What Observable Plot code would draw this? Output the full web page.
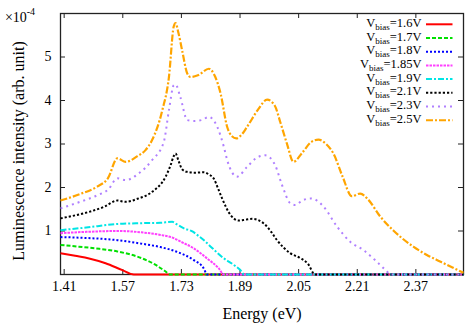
<!DOCTYPE html>
<html><head><meta charset="utf-8">
<script src="https://cdn.jsdelivr.net/npm/d3@7"></script>
<script src="https://cdn.jsdelivr.net/npm/@observablehq/plot@0.6"></script>
<style>html,body{margin:0;padding:0;background:#fff} svg{display:block}</style>
</head><body><div id="chart"></div>
<script>
// ---- data (intensity in units of 1e-4) ----
const biasLabels = ["1.6V","1.7V","1.8V","1.85V","1.9V","2.1V","2.3V","2.5V"];
const seriesColors = ["#ff0000","#00e000","#0000ff","#ff40ff","#00e5e5","#000000","#b080ff","#ffa500"];
const seriesDash = ["none","4,2","2,2","2.5,1","6,2,2,2","2.2,2","2,4","7,2,2,2"];

const energy_16 = [1.40,1.44,1.478,1.523,1.569,1.60,2.50];
const lum_16    = [0.49,0.43,0.37,0.26,0.10,0,0];

const energy_17 = [1.40,1.45,1.496,1.555,1.623,1.66,1.685,1.70,2.50];
const lum_17    = [0.68,0.64,0.60,0.53,0.37,0.22,0.08,0,0];

const energy_18 = [1.40,1.47,1.555,1.62,1.673,1.718,1.764,1.791,1.80,2.50];
const lum_18    = [0.86,0.84,0.79,0.71,0.63,0.52,0.33,0.14,0,0];

const energy_185 = [1.40,1.47,1.555,1.62,1.673,1.705,1.727,1.764,1.80,1.832,1.846,2.50];
const lum_185    = [0.95,0.98,1.00,0.97,0.91,0.85,0.76,0.60,0.37,0.14,0,0];

const energy_19 = [1.40,1.47,1.555,1.62,1.673,1.705,1.718,1.737,1.76,1.773,1.79,1.81,1.846,1.873,1.896,1.90,2.50];
const lum_19    = [1.02,1.08,1.16,1.18,1.19,1.21,1.15,1.06,0.99,0.91,0.80,0.64,0.37,0.22,0.05,0,0];

const energy_21 = [1.40,1.44,1.478,1.52,1.555,1.578,1.61,1.65,1.687,1.70,1.709,1.714,1.722,1.732,1.745,1.765,1.791,1.805,1.818,1.83,1.841,1.864,1.886,1.905,1.923,1.954,1.975,1.991,2.027,2.054,2.075,2.095,2.50];
const lum_21    = [1.29,1.36,1.44,1.56,1.70,1.67,1.74,1.90,2.25,2.50,2.72,2.78,2.62,2.42,2.36,2.34,2.35,2.30,2.21,1.98,1.75,1.37,1.24,1.26,1.28,1.18,0.98,0.79,0.49,0.38,0.25,0,0];

const energy_23 = [1.40,1.45,1.50,1.53,1.555,1.578,1.61,1.65,1.682,1.696,1.709,1.714,1.727,1.746,1.764,1.785,1.805,1.828,1.846,1.855,1.868,1.882,1.909,1.935,1.959,1.986,2.005,2.027,2.041,2.06,2.082,2.10,2.118,2.155,2.191,2.227,2.26,2.291,2.30,2.50];
const lum_23    = [1.52,1.66,1.82,1.95,2.21,2.17,2.30,2.63,3.05,3.78,4.35,4.37,4.08,3.55,3.53,3.55,3.62,3.39,2.93,2.63,2.35,2.25,2.47,2.68,2.74,2.51,2.05,1.64,1.60,1.70,1.75,1.70,1.56,1.10,0.75,0.56,0.32,0.07,0,0];

const energy_25 = [1.40,1.45,1.50,1.53,1.555,1.578,1.61,1.632,1.65,1.678,1.696,1.709,1.714,1.722,1.732,1.746,1.755,1.775,1.805,1.822,1.837,1.855,1.868,1.88,1.895,1.909,1.94,1.964,1.985,2.00,2.018,2.036,2.06,2.085,2.104,2.125,2.145,2.17,2.195,2.218,2.24,2.273,2.31,2.363,2.40,2.436,2.47,2.50];
const lum_25    = [1.70,1.84,2.02,2.22,2.67,2.59,2.72,2.86,3.09,3.78,4.54,5.70,5.78,5.55,5.15,4.62,4.54,4.58,4.73,4.55,4.16,3.39,3.18,3.13,3.22,3.39,3.80,4.02,3.88,3.50,3.01,2.59,2.80,3.05,3.10,3.00,2.78,2.25,1.80,1.86,1.72,1.33,1.00,0.64,0.45,0.30,0.16,0.04];

const xTicks = [1.41,1.57,1.73,1.89,2.05,2.21,2.37];
const yTicks = [1,2,3,4,5];

const energies = [energy_16,energy_17,energy_18,energy_185,energy_19,energy_21,energy_23,energy_25];
const lums = [lum_16,lum_17,lum_18,lum_185,lum_19,lum_21,lum_23,lum_25];

const rows = [];
biasLabels.forEach((b,i)=>energies[i].forEach((e,j)=>rows.push({bias:b, E:e, I:lums[i][j]})));

// ---- layout ----
const W=469, H=328, mL=60, mR=6, mT=13, mB=54;
const fW = W-mL-mR, fH = H-mT-mB, tk = 5;
const serif = "'Liberation Serif','DejaVu Serif',serif";

const lineMarks = biasLabels.map((b,i)=>Plot.line(rows.filter(r=>r.bias===b), {
  x:"E", y:"I", stroke: seriesColors[i], strokeWidth: i===7 ? 2.2 : 2,
  strokeDasharray: seriesDash[i], strokeLinecap:"butt", strokeLinejoin:"round", curve:"monotone-x"
}));

const chart = Plot.plot({
  width:W, height:H, marginLeft:mL, marginRight:mR, marginTop:mT, marginBottom:mB,
  style:{fontFamily:serif, fontSize:"14px", color:"#000", background:"#fff"},
  x:{domain:[1.4,2.5]},
  y:{domain:[0,6]},
  marks:[
    Plot.axisX(xTicks,{tickSize:0, tickPadding:7, tickFormat:d3.format(".2f"), label:null, fontSize:14}),
    Plot.axisY(yTicks,{tickSize:0, tickPadding:9, tickFormat:d=>String(d), label:null, fontSize:14}),
    Plot.frame({stroke:"#222", strokeWidth:1.3}),
    Plot.ruleX(xTicks,{x:d=>d, insetTop:fH-tk, stroke:"#222"}),
    Plot.ruleX(xTicks,{x:d=>d, insetBottom:fH-tk, stroke:"#222"}),
    Plot.ruleY(yTicks,{y:d=>d, insetRight:fW-tk, stroke:"#222"}),
    Plot.ruleY(yTicks,{y:d=>d, insetLeft:fW-tk, stroke:"#222"}),
    ...lineMarks,
    Plot.text(["Energy (eV)"],{text:d=>d, frameAnchor:"bottom", dy:44, fontSize:16, fill:"#000"}),
    Plot.text(["Luminescence intensity (arb. unit)"],{text:d=>d, frameAnchor:"left", textAnchor:"middle", rotate:-90, dx:-42, dy:7, fontSize:16, fill:"#000"})
  ]
});
document.getElementById("chart").appendChild(chart);

// ---- annotations: exponent & legend ----
const svg = d3.select(chart);
const ex = svg.append("text").attr("x",20).attr("y",21.5)
  .attr("font-family",serif).attr("font-size",14).attr("fill","#000");
ex.append("tspan").text("\u00d710");
ex.append("tspan").attr("dy",-7).attr("font-size",10).text("-4");

const lg = svg.append("g").attr("font-family",serif).attr("fill","#000");
biasLabels.forEach((b,i)=>{
  const yc = 24.3 + i*13.7;
  const t = lg.append("text").attr("x",421.5).attr("y",yc+2.5).attr("text-anchor","end").attr("font-size",12.5);
  t.append("tspan").text("V");
  t.append("tspan").attr("dy",3).attr("font-size",9).text("bias");
  t.append("tspan").attr("dy",-3).text("="+b);
  lg.append("line").attr("x1",426).attr("x2",452.5).attr("y1",yc).attr("y2",yc)
    .attr("stroke",seriesColors[i]).attr("stroke-width",2)
    .attr("stroke-dasharray",seriesDash[i]==="none"?null:seriesDash[i]);
});
</script>
</body></html>
